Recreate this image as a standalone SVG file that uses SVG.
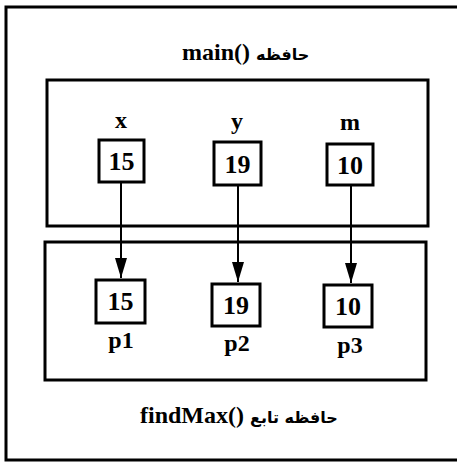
<svg xmlns="http://www.w3.org/2000/svg" width="457" height="465" viewBox="0 0 457 465">
<style>
.frame{fill:none;stroke:#000;stroke-width:3}
.box{fill:#fff;stroke:#000;stroke-width:3}
.t{font-family:"Liberation Serif","DejaVu Serif",serif;font-weight:bold;fill:#000}
.num{font-size:26px;text-anchor:middle}
.lbl{font-size:24px;text-anchor:middle}
.title{font-size:24px}
.ar{font-family:"DejaVu Sans",sans-serif;font-size:16px;font-weight:bold}
.conn{stroke:#000;stroke-width:2;fill:none}
</style>
<rect width="457" height="465" fill="#fff"/>
<g id="outer"><path class="frame" d="M457,7 H6 V460 H457"/></g>
<g id="main-frame"><rect class="frame" x="47" y="80" width="381" height="146"/>
<text class="t title" x="182" y="60">main() <tspan class="ar">حافظه</tspan></text></g>
<g id="func-frame"><rect class="frame" x="45" y="242" width="381" height="138"/>
<text class="t title" x="140" y="423">findMax() <tspan class="ar">حافظه تابع</tspan></text></g>
<g id="connectors">
<line class="conn" x1="121" y1="182" x2="121" y2="278"/>
<line class="conn" x1="238" y1="185" x2="238" y2="282"/>
<line class="conn" x1="351" y1="185" x2="351" y2="283"/>
<path d="M115,258 L127,258 L121,278 Z"/>
<path d="M232,262 L244,262 L238,282 Z"/>
<path d="M345,263 L357,263 L351,283 Z"/>
</g>
<g id="x"><text class="t lbl" x="121" y="128">x</text><rect class="box" x="99" y="140" width="45" height="42"/><text class="t num" x="121.5" y="170">15</text></g>
<g id="y"><text class="t lbl" x="237" y="129">y</text><rect class="box" x="214" y="142" width="47" height="43"/><text class="t num" x="237.5" y="173">19</text></g>
<g id="m"><text class="t lbl" x="350" y="130">m</text><rect class="box" x="327" y="144" width="46" height="41"/><text class="t num" x="350" y="174">10</text></g>
<g id="p1"><rect class="box" x="96" y="280" width="49" height="43"/><text class="t num" x="120.5" y="310">15</text><text class="t lbl" x="121" y="348">p1</text></g>
<g id="p2"><rect class="box" x="212" y="284" width="48" height="42"/><text class="t num" x="236" y="314">19</text><text class="t lbl" x="237" y="351">p2</text></g>
<g id="p3"><rect class="box" x="324" y="285" width="48" height="42"/><text class="t num" x="348" y="315">10</text><text class="t lbl" x="350" y="353">p3</text></g>
</svg>
